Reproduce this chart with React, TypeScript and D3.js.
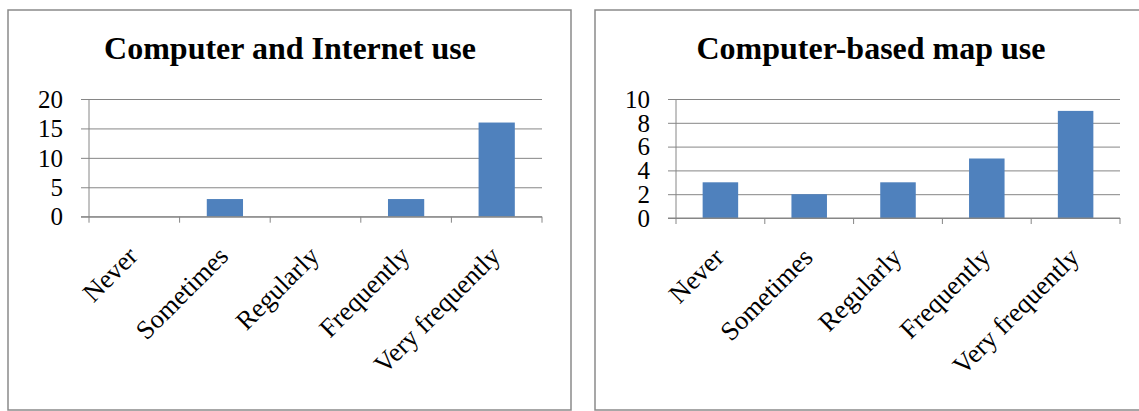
import { axisLeft, scaleBand, scaleLinear, select } from 'd3';
import React, { useEffect, useRef } from 'react';

const categories = ['Never', 'Sometimes', 'Regularly', 'Frequently', 'Very frequently'];
const internetUse = [0, 3, 0, 3, 16];
const mapUse = [3, 2, 3, 5, 9];
const internetTicks = [0, 5, 10, 15, 20];
const mapTicks = [0, 2, 4, 6, 8, 10];

interface PanelProps {
  title: string;
  values: number[];
  ticks: number[];
  frame: { x: number; y: number; w: number; h: number };
  plot: { left: number; right: number; top: number; bottom: number };
  titleX: number;
}

const FONT = '"Liberation Serif", "Times New Roman", serif';
const BAR = '#4f81bd';
const GRID = '#868686';

const Panel: React.FC<PanelProps> = ({ title, values, ticks, frame, plot, titleX }) => {
  const gRef = useRef<SVGGElement>(null);

  useEffect(() => {
    const g = select(gRef.current);
    g.selectAll('*').remove();

    const xScale = scaleBand<string>()
      .domain(categories)
      .range([plot.left, plot.right])
      .paddingInner(0.6)
      .paddingOuter(0.3);
    const band = (plot.right - plot.left) / categories.length;
    const yScale = scaleLinear()
      .domain([0, ticks[ticks.length - 1]])
      .range([plot.bottom, plot.top]);

    // frame
    g.append('rect')
      .attr('x', frame.x)
      .attr('y', frame.y)
      .attr('width', frame.w)
      .attr('height', frame.h)
      .attr('fill', '#fff')
      .attr('stroke', '#8a8a8a')
      .attr('stroke-width', 1.5);

    // title
    g.append('text')
      .attr('x', titleX)
      .attr('y', 59)
      .attr('text-anchor', 'middle')
      .attr('font-family', FONT)
      .attr('font-weight', 'bold')
      .attr('font-size', 32)
      .attr('fill', '#000')
      .text(title);

    // gridlines + y axis labels
    const yAxis = axisLeft(yScale)
      .tickValues(ticks)
      .tickSize(-(plot.right - plot.left) - 8)
      .tickFormat((d) => String(d));
    const ya = g
      .append('g')
      .attr('transform', `translate(${plot.right}, 0)`)
      .call(yAxis);
    ya.select('.domain').remove();
    ya.selectAll('.tick line')
      .attr('x1', -(plot.right - plot.left) - 8)
      .attr('x2', 0)
      .attr('stroke', GRID);
    ya.selectAll('.tick text')
      .attr('x', -(plot.right - plot.left) - 26)
      .attr('dy', '0.33em')
      .attr('font-family', FONT)
      .attr('font-size', 25)
      .attr('fill', '#000');

    // vertical axis line
    g.append('line')
      .attr('x1', plot.left)
      .attr('x2', plot.left)
      .attr('y1', plot.top)
      .attr('y2', plot.bottom + 6)
      .attr('stroke', GRID);

    // category tick marks
    g.selectAll('.cat-tick')
      .data(categories)
      .join('line')
      .attr('class', 'cat-tick')
      .attr('x1', (d) => (xScale(d) as number) - band * 0.3 + band)
      .attr('x2', (d) => (xScale(d) as number) - band * 0.3 + band)
      .attr('y1', plot.bottom)
      .attr('y2', plot.bottom + 6)
      .attr('stroke', GRID);

    // bars
    g.selectAll('.bar')
      .data(values)
      .join('rect')
      .attr('class', 'bar')
      .attr('x', (_, i) => xScale(categories[i]) as number)
      .attr('y', (d) => yScale(d))
      .attr('width', xScale.bandwidth())
      .attr('height', (d) => plot.bottom - yScale(d))
      .attr('fill', BAR);

    // x axis line over bars
    g.append('line')
      .attr('x1', plot.left - 8)
      .attr('x2', plot.right)
      .attr('y1', plot.bottom)
      .attr('y2', plot.bottom)
      .attr('stroke', GRID);

    // rotated category labels
    g.selectAll('.x-label')
      .data(categories)
      .join('text')
      .attr('class', 'x-label')
      .attr('transform', (d) => {
        const cx = (xScale(d) as number) + xScale.bandwidth() / 2 + 5;
        const cy = plot.bottom + 41;
        return `translate(${cx}, ${cy}) rotate(-45)`;
      })
      .attr('text-anchor', 'end')
      .attr('font-family', FONT)
      .attr('font-size', 26.5)
      .attr('fill', '#000')
      .text((d) => d);
  }, [title, values, ticks]);

  return <g ref={gRef} />;
};

const App: React.FC = () => {
  return (
    <svg
      width={1139}
      height={411}
      style={{ position: 'absolute', left: 0, top: 0, background: '#fff' }}
    >
      <Panel
        title="Computer and Internet use"
        values={internetUse}
        ticks={internetTicks}
        frame={{ x: 8, y: 10, w: 563, h: 400 }}
        plot={{ left: 89, right: 542, top: 99, bottom: 216.7 }}
        titleX={290}
      />
      <Panel
        title="Computer-based map use"
        values={mapUse}
        ticks={mapTicks}
        frame={{ x: 595, y: 10, w: 555, h: 400 }}
        plot={{ left: 676, right: 1120, top: 99, bottom: 218 }}
        titleX={871}
      />
    </svg>
  );
};

export default App;
